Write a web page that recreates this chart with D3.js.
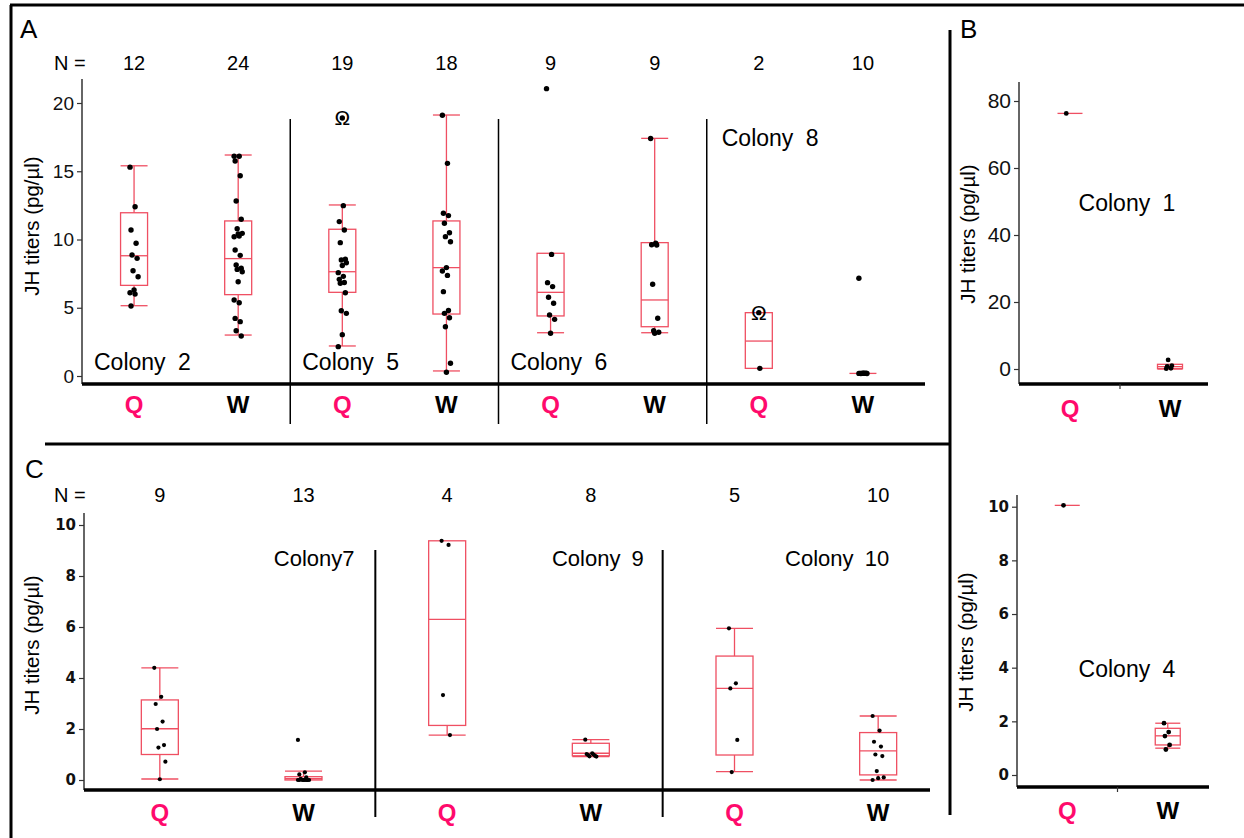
<!DOCTYPE html>
<html><head><meta charset="utf-8">
<script src="https://cdn.jsdelivr.net/npm/d3@7"></script>
<style>body{margin:0;background:#fff} svg{display:block;font-family:"Liberation Sans",Arial,sans-serif}</style>
</head><body><svg id="c" width="1244" height="838"></svg>
<script>
// ---------------- DATA ----------------
const castes = ["Q", "W"];

// Panel A
const coloniesA = ["Colony 2", "Colony 5", "Colony 6", "Colony 8"];
const nA = [[12, 24], [19, 18], [9, 9], [2, 10]];
const ticksA = [0, 5, 10, 15, 20];
// [lowWhisker, q1, median, q3, highWhisker]
const boxA = [
  [[5.15, 6.64, 8.81, 11.96, 15.4], [3.0, 5.96, 8.6, 11.36, 16.19]],
  [[2.2, 6.13, 7.64, 10.75, 12.53], [0.37, 4.54, 7.94, 11.36, 19.12]],
  [[3.17, 4.4, 6.13, 8.99, 8.99], [3.17, 3.61, 5.57, 9.77, 17.41]],
  [[0.56, 0.56, 2.56, 4.64, 4.64], [0.19, 0.19, 0.19, 0.19, 0.19]]
];
const pointsA = [
  [[15.3, 12.4, 10.7, 9.72, 8.86, 8.62, 7.71, 7.27, 6.3, 6.1, 6.0, 5.13],
   [16.1, 16.1, 15.75, 14.67, 12.82, 11.48, 10.79, 10.45, 10.4, 10.2, 10.25, 9.23, 8.84, 8.13, 7.9, 7.81, 7.64, 6.91, 5.57, 5.37, 4.22, 3.98, 3.32, 2.93]],
  [[18.9, 12.48, 11.31, 10.7, 9.77, 8.55, 8.5, 8.3, 8.1, 7.57, 7.3, 7.08, 6.85, 6.79, 6.1, 4.78, 4.59, 3.03, 2.15],
   [19.1, 15.58, 11.92, 11.75, 11.19, 10.5, 10.21, 9.84, 7.94, 7.69, 7.37, 6.18, 4.8, 4.59, 4.27, 3.61, 0.93, 0.27]],
  [[21.05, 8.91, 6.84, 6.55, 5.77, 5.33, 4.47, 4.15, 3.13],
   [17.4, 9.72, 9.62, 9.6, 6.72, 4.23, 3.32, 3.2, 3.13]],
  [[4.64, 0.56],
   [7.16, 0.2, 0.19, 0.19, 0.18, 0.2, 0.19, 0.18, 0.2, 0.19]]
];
const omegaA = [[null, null], [18.9, null], [null, null], [4.64, null]];

// Panel B (Colony 1, Colony 4)
const ticksB1 = [0, 20, 40, 60, 80];
const boxB1 = [[76.3, 76.3, 76.3, 76.3, 76.3], [0, 0.1, 0.7, 1.4, 1.4]];
const pointsB1 = [[76.3], [0.1, 0.2, 0.8, 1.0, 2.7]];
const ticksB4 = [0, 2, 4, 6, 8, 10];
const boxB4 = [[10.05, 10.05, 10.05, 10.05, 10.05], [1.0, 1.12, 1.46, 1.74, 1.93]];
const pointsB4 = [[10.05], [1.93, 1.6, 1.45, 1.12, 0.95]];

// Panel C
const coloniesC = ["Colony7", "Colony 9", "Colony 10"];
const nC = [[9, 13], [4, 8], [5, 10]];
const ticksC = [0, 2, 4, 6, 8, 10];
const boxC = [
  [[0.04, 1.0, 2.01, 3.14, 4.4], [0, 0, 0.05, 0.13, 0.35]],
  [[1.76, 2.14, 6.3, 9.38, 9.38], [0.92, 0.95, 1.05, 1.44, 1.58]],
  [[0.33, 0.98, 3.59, 4.86, 5.95], [0.0, 0.2, 1.14, 1.86, 2.51]]
];
const pointsC = [
  [[4.4, 3.26, 2.98, 2.29, 2.0, 1.37, 1.27, 0.72, 0.03],
   [1.57, 0.3, 0.22, 0.1, 0.05, 0, 0, 0, 0, 0, 0, 0, 0]],
  [[9.38, 9.22, 3.33, 1.76],
   [1.58, 1.05, 1.02, 1.0, 0.98, 0.95, 0.93, 0.92]],
  [[5.95, 3.79, 3.59, 1.57, 0.31],
   [2.51, 1.94, 1.5, 1.31, 1.0, 0.94, 0.35, 0.1, 0.07, 0.0]]
];

// ---------------- DRAW ----------------
const svg = d3.select("#c");
svg.append("rect").attr("width", 1244).attr("height", 838).attr("fill", "#fff");
const BOX = "#ef4f62", QCOL = "#ff0a6c", AX = "#333";
const TITLE = "JH titers (pg/\u00b5l)";

function jit(i) { return ((((i * 5) % 9) - 4) / 4) * 0.3; }

function boxplot(g, cx, y, s, pts, bw, r, omega) {
  const [lo, q1, med, q3, hi] = s;
  const b = g.append("g").attr("fill", "none").attr("stroke", BOX).attr("stroke-width", 1.3);
  if (hi > q3) {
    b.append("line").attr("x1", cx).attr("x2", cx).attr("y1", y(q3)).attr("y2", y(hi));
    b.append("line").attr("x1", cx - bw / 2).attr("x2", cx + bw / 2).attr("y1", y(hi)).attr("y2", y(hi));
  }
  if (lo < q1) {
    b.append("line").attr("x1", cx).attr("x2", cx).attr("y1", y(q1)).attr("y2", y(lo));
    b.append("line").attr("x1", cx - bw / 2).attr("x2", cx + bw / 2).attr("y1", y(lo)).attr("y2", y(lo));
  }
  b.append("rect").attr("x", cx - bw / 2).attr("y", y(q3)).attr("width", bw).attr("height", Math.max(0, y(q1) - y(q3)));
  b.append("line").attr("x1", cx - bw / 2).attr("x2", cx + bw / 2).attr("y1", y(med)).attr("y2", y(med));
  if (omega != null) {
    g.append("text").attr("x", cx).attr("y", y(omega) + 7).attr("text-anchor", "middle")
      .attr("font-size", 21).attr("fill", "#000").text("\u03a9");
  }
  g.append("g").selectAll("circle").data(pts).join("circle")
    .attr("cx", (d, i) => (omega != null && d === omega) ? cx : cx + jit(i) * bw / 2)
    .attr("cy", d => y(d)).attr("r", r).attr("fill", "#000");
}

function yAxis(g, x0, y, ticks, fs, fam, fw, y1, y2) {
  const a = g.append("g").attr("transform", `translate(${x0},0)`)
    .call(d3.axisLeft(y).tickValues(ticks).tickSize(5).tickPadding(3).tickFormat(d3.format("d")));
  a.select(".domain").remove();
  a.selectAll("line").attr("stroke", AX).attr("stroke-width", 1.2);
  a.selectAll("text").attr("font-size", fs).attr("font-family", fam).attr("font-weight", fw).attr("fill", "#111");
  g.append("line").attr("x1", x0).attr("x2", x0).attr("y1", y1).attr("y2", y2).attr("stroke", AX).attr("stroke-width", 1.5);
}

function yTitle(g, x, yc) {
  g.append("text").attr("transform", `translate(${x},${yc}) rotate(-90)`).attr("text-anchor", "middle")
    .attr("font-size", 20.5).attr("fill", "#000").text(TITLE);
}

function casteLabels(g, xs, yb) {
  castes.forEach((c, i) => {
    g.append("text").attr("x", xs[i]).attr("y", yb).attr("text-anchor", "middle")
      .attr("font-size", 24).attr("font-weight", "bold").attr("fill", c === "Q" ? QCOL : "#000").text(c);
  });
}

function line(x1, y1, x2, y2, w) {
  svg.append("line").attr("x1", x1).attr("y1", y1).attr("x2", x2).attr("y2", y2)
    .attr("stroke", "#000").attr("stroke-width", w);
}

// Frame
line(10, 5, 1244, 5, 3);
line(11, 5, 11, 838, 3);
line(45, 444, 950, 444, 3);
line(950, 30, 950, 815, 3);

// ---- Panel A ----
{
  const g = svg.append("g");
  const y = d3.scaleLinear().domain([0, 20]).range([376, 103]);
  const xo = d3.scaleBand().domain(coloniesA).range([82, 915]);
  const xi = d3.scaleBand().domain(castes).range([0, xo.bandwidth()]);
  const cx = (gi, ci) => xo(coloniesA[gi]) + xi(castes[ci]) + xi.bandwidth() / 2;

  g.append("text").attr("x", 20).attr("y", 38).attr("font-size", 26).text("A");
  g.append("text").attr("x", 54).attr("y", 70).attr("font-size", 20).text("N =");
  yAxis(g, 82, y, ticksA, 19, "Liberation Sans", "normal", 79, 384);
  yTitle(g, 39, 226);

  coloniesA.forEach((col, gi) => {
    if (gi > 0) {
      g.append("line").attr("x1", xo(col)).attr("x2", xo(col)).attr("y1", 119).attr("y2", 424)
        .attr("stroke", "#000").attr("stroke-width", 1.5);
    }
    castes.forEach((c, ci) => {
      g.append("text").attr("x", cx(gi, ci)).attr("y", 70).attr("text-anchor", "middle")
        .attr("font-size", 20).text(nA[gi][ci]);
      boxplot(g, cx(gi, ci), y, boxA[gi][ci], pointsA[gi][ci], 27, 2.7, omegaA[gi][ci]);
    });
    casteLabels(g, [cx(gi, 0), cx(gi, 1)], 413);
    const top = gi === 3;
    g.append("text").attr("x", xo(col) + (top ? 15 : 12)).attr("y", top ? 146 : 370)
      .attr("font-size", 23).attr("word-spacing", 6).text(col);
  });
  g.append("line").attr("x1", 82).attr("x2", 925).attr("y1", 384).attr("y2", 384)
    .attr("stroke", "#000").attr("stroke-width", 3.5);
}

// ---- Panel B ----
function panelB(y, ticks, boxes, pts, x0, xEnd, yTop, yAxisY, label, labelY, qwY, titleY, tfs, tfam, tfw, x1range) {
  const g = svg.append("g");
  const x = d3.scaleBand().domain(castes).range(x1range);
  const cx = c => x(c) + x.bandwidth() / 2;
  yAxis(g, x0, y, ticks, tfs, tfam, tfw, yTop, yAxisY);
  yTitle(g, x0 - 44, titleY);
  castes.forEach((c, ci) => boxplot(g, cx(c), y, boxes[ci], pts[ci], 25, 2.4, null));
  g.append("line").attr("x1", x0).attr("x2", xEnd).attr("y1", yAxisY).attr("y2", yAxisY)
    .attr("stroke", "#000").attr("stroke-width", 3.5);
  const mid = (x1range[0] + x1range[1]) / 2;
  g.append("line").attr("x1", mid).attr("x2", mid).attr("y1", yAxisY).attr("y2", yAxisY + 5)
    .attr("stroke", AX).attr("stroke-width", 1.2);
  casteLabels(g, [cx("Q"), cx("W")], qwY);
  g.append("text").attr("x", 1127).attr("y", labelY).attr("text-anchor", "middle")
    .attr("font-size", 23).attr("word-spacing", 6).text(label);
}
svg.append("text").attr("x", 960).attr("y", 38).attr("font-size", 26).text("B");
panelB(d3.scaleLinear().domain([0, 80]).range([369, 101]), ticksB1, boxB1, pointsB1,
  1019, 1208, 82, 384, "Colony 1", 211, 417, 234, 21, "Liberation Sans", "normal", [1020, 1220]);
panelB(d3.scaleLinear().domain([0, 10]).range([775, 506.7]), ticksB4, boxB4, pointsB4,
  1017, 1209, 495, 787, "Colony 4", 677, 819, 642, 15, "DejaVu Sans", "bold", [1017, 1218]);

// ---- Panel C ----
{
  const g = svg.append("g");
  const y = d3.scaleLinear().domain([0, 10]).range([780, 525]);
  const xo = d3.scaleBand().domain(coloniesC).range([88, 950]);
  const xi = d3.scaleBand().domain(castes).range([0, xo.bandwidth()]);
  const cx = (gi, ci) => xo(coloniesC[gi]) + xi(castes[ci]) + xi.bandwidth() / 2;
  const labelOffset = [51, 53, 11];

  g.append("text").attr("x", 25).attr("y", 478).attr("font-size", 26).text("C");
  g.append("text").attr("x", 54).attr("y", 502).attr("font-size", 20).text("N =");
  yAxis(g, 84, y, ticksC, 15, "DejaVu Sans", "bold", 513, 790);
  yTitle(g, 39, 645);

  coloniesC.forEach((col, gi) => {
    if (gi > 0) {
      g.append("line").attr("x1", xo(col)).attr("x2", xo(col)).attr("y1", 550).attr("y2", 817)
        .attr("stroke", "#000").attr("stroke-width", 2);
    }
    castes.forEach((c, ci) => {
      g.append("text").attr("x", cx(gi, ci)).attr("y", 502).attr("text-anchor", "middle")
        .attr("font-size", 20).text(nC[gi][ci]);
      boxplot(g, cx(gi, ci), y, boxC[gi][ci], pointsC[gi][ci], 37, 2.1, null);
    });
    casteLabels(g, [cx(gi, 0), cx(gi, 1)], 821);
    g.append("text").attr("x", cx(gi, 1) + labelOffset[gi]).attr("y", 566).attr("text-anchor", "end")
      .attr("font-size", 22).attr("word-spacing", 5).text(col);
  });
  g.append("line").attr("x1", 84).attr("x2", 930).attr("y1", 790).attr("y2", 790)
    .attr("stroke", "#000").attr("stroke-width", 3.5);
}
</script></body></html>
